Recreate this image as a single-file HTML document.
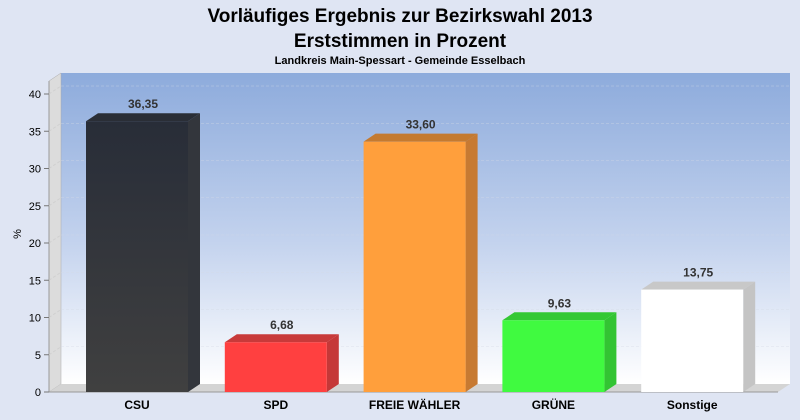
<!DOCTYPE html>
<html><head><meta charset="utf-8"><style>
body{margin:0;background:#dfe5f3;font-family:"Liberation Sans",sans-serif;}
svg{display:block}
</style></head><body>
<svg id="c" width="800" height="420" xmlns="http://www.w3.org/2000/svg">
<defs>
<linearGradient id="wall" x1="0" y1="0" x2="0" y2="1"><stop offset="0" stop-color="#8dabdc"/><stop offset="0.55" stop-color="#c4d3ee"/><stop offset="1" stop-color="#ffffff"/></linearGradient>
<linearGradient id="csu" x1="0" y1="0" x2="0" y2="1"><stop offset="0" stop-color="#282d38"/><stop offset="1" stop-color="#404040"/></linearGradient>
</defs>
<text x="400" y="22" text-anchor="middle" font-size="19" font-weight="bold" fill="#000">Vorläufiges Ergebnis zur Bezirkswahl 2013</text>
<text x="400" y="47" text-anchor="middle" font-size="19" font-weight="bold" fill="#000">Erststimmen in Prozent</text>
<text x="400" y="64" text-anchor="middle" font-size="11" font-weight="bold" fill="#000">Landkreis Main-Spessart - Gemeinde Esselbach</text>
<polygon points="61,73 790,73 790,384 61,384" fill="url(#wall)"/>
<polygon points="49,81 61,73 61,384 49,392" fill="#dcdcdc" stroke="#aaa" stroke-width="0.5"/>
<polygon points="49,392 61,384 790,384 778,392" fill="#d4d4d4"/>
<line x1="49" y1="81" x2="49" y2="392" stroke="#999"/>
<line x1="49" y1="392" x2="778" y2="392" stroke="#999"/>
<text transform="translate(21,234) rotate(-90)" text-anchor="middle" font-size="11">%</text>
<g id="grid"></g><g id="bars"></g>
<script>
const categories=["CSU","SPD","FREIE WÄHLER","GRÜNE","Sonstige"];
const values=[36.35,6.68,33.60,9.63,13.75];
const labels=["36,35","6,68","33,60","9,63","13,75"];
const ticks=[0,5,10,15,20,25,30,35,40];
const fronts=["url(#csu)","#ff4040","#ff9f3c","#40fa40","#ffffff"];
const tops=["#2a2e36","#c83a3a","#c47a30","#34c834","#c8c8c8"];
const sides=["#33363c","#c53838","#c77a32","#33c433","#c4c4c4"];
const NS="http://www.w3.org/2000/svg";
const y=v=>392-v*7.45;
const xc=i=>137+i*138.8;
const DX=12,DY=-8,W=102;
function mk(t,a,p){const e=document.createElementNS(NS,t);for(const k in a)e.setAttribute(k,a[k]);p.appendChild(e);return e;}
const g=document.getElementById('grid'),b=document.getElementById('bars');
ticks.forEach(t=>{
 if(t>0){const l=mk('line',{x1:61,y1:y(t)+DY,x2:790,y2:y(t)+DY,stroke:'#d4dae6','stroke-dasharray':'3,2','stroke-width':0.6,opacity:0.7},g);
 
 
 const d=mk('line',{x1:49,y1:y(t),x2:61,y2:y(t)+DY,stroke:'#cccccc','stroke-dasharray':'3,2',opacity:0.7},g);
 
 }
 const tk=mk('line',{x1:44,y1:y(t),x2:49,y2:y(t),stroke:'#777'},g);
 
 
 const tx=mk('text',{x:41,y:y(t)+4,'text-anchor':'end','font-size':11},g);tx.textContent=t;
 
 
});
categories.forEach((c,i)=>{
 const x0=xc(i)-W/2,x1=x0+W,yt=y(values[i]);
 const s=mk('polygon',{points:`${x1},${yt} ${x1+DX},${yt+DY} ${x1+DX},${392+DY} ${x1},392`,fill:sides[i]},b);
 
 
 const tp=mk('polygon',{points:`${x0},${yt} ${x0+DX},${yt+DY} ${x1+DX},${yt+DY} ${x1},${yt}`,fill:tops[i]},b);
 
 
 const r=mk('rect',{x:x0,y:yt,width:W,height:392-yt,fill:fronts[i]},b);
 
 
 const v=mk('text',{x:xc(i)+DX/2,y:yt+DY-5,'text-anchor':'middle','font-size':12,'font-weight':'bold',fill:'#333'},b);v.textContent=labels[i];
 
 
 const cl=mk('text',{x:xc(i),y:409,'text-anchor':'middle','font-size':12,'font-weight':'bold'},b);cl.textContent=c;
 
 
});
</script>
</svg>
</body></html>
